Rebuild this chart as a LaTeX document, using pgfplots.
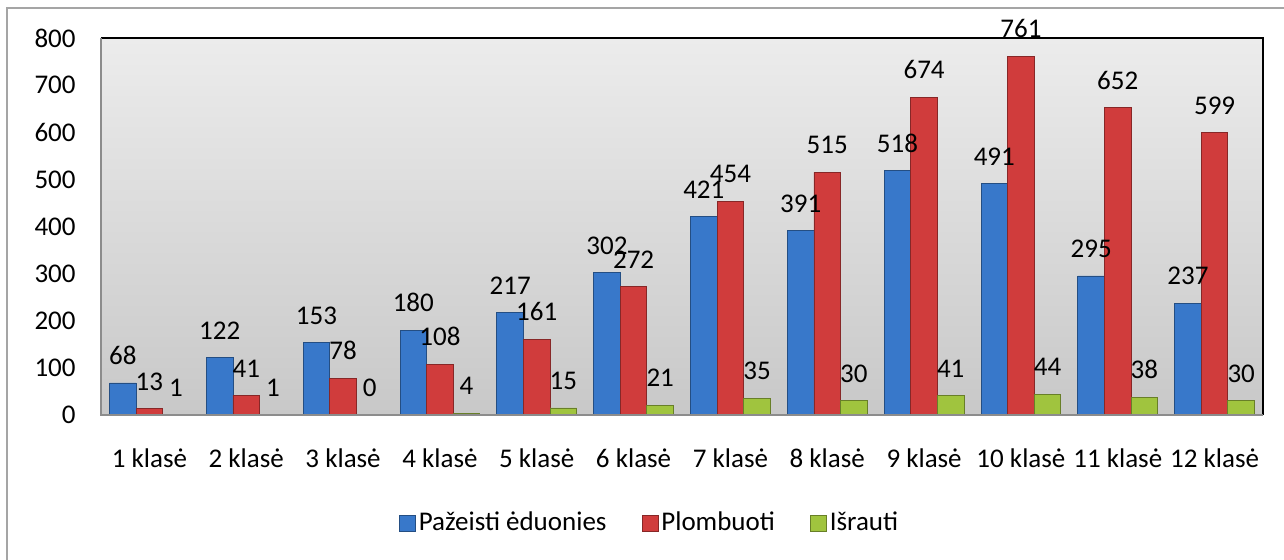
\documentclass[border=0pt]{standalone}
\usepackage{fontspec}
\setmainfont{Carlito}
\usepackage{pgfplots}
\pgfplotsset{compat=1.18}

\definecolor{barblue}{RGB}{56,120,202}
\definecolor{barred}{RGB}{208,60,60}
\definecolor{bargreen}{RGB}{160,196,62}
\definecolor{bgtop}{RGB}{236,236,236}
\definecolor{bgbot}{RGB}{200,200,200}
\definecolor{framegray}{RGB}{140,140,140}
\definecolor{bordergray}{RGB}{165,165,165}

\newcommand{\cf}{\fontsize{13.5}{16}\selectfont}

\begin{document}
\begin{tikzpicture}
\begin{axis}[
    scale only axis,
    width=581pt, height=188.5pt,
    ymin=0, ymax=800,
    ytick={0,100,...,800},
    xmin=-0.5, xmax=11.5,
    xtick={0,...,11},
    xticklabels={1 klasė,2 klasė,3 klasė,4 klasė,5 klasė,6 klasė,7 klasė,8 klasė,9 klasė,10 klasė,11 klasė,12 klasė},
    ybar=0pt, bar width=13.3pt,
    axis line style={draw=none},
    major tick length=0pt,
    font=\cf,
    /pgf/number format/assume math mode=true,
    ticklabel style={font=\cf},
    xticklabel style={anchor=north, inner sep=0pt, yshift=-16.5pt},
    yticklabel style={anchor=east, inner sep=0pt, xshift=-12.5pt},
    nodes near coords,
    every node near coord/.append style={font=\cf, black, anchor=south, inner sep=0pt, yshift=9pt},
    axis background/.style={top color=bgtop, bottom color=bgbot},
    clip=false,
    legend columns=3,
    legend style={at={(0.4725,-0.2865)}, anchor=center, draw=none, fill=none,
        font=\cf, nodes={inner sep=1.5pt},
        /tikz/every odd column/.append style={column sep=0pt},
        /tikz/every even column/.append style={column sep=16pt}},
    legend image code/.code={\fill[#1] (0pt,-4pt) rectangle (8pt,4pt);},
]
\coordinate (O) at (rel axis cs:0,0);

\addplot[draw=barblue!65!black, line width=0.4pt, fill=barblue]
    coordinates {(0,68) (1,122) (2,153) (3,180) (4,217) (5,302) (6,421) (7,391) (8,518) (9,491) (10,295) (11,237)};
\addplot[draw=barred!65!black, line width=0.4pt, fill=barred]
    coordinates {(0,13) (1,41) (2,78) (3,108) (4,161) (5,272) (6,454) (7,515) (8,674) (9,761) (10,652) (11,599)};
\addplot[draw=bargreen!65!black, line width=0.4pt, fill=bargreen]
    coordinates {(0,1) (1,1) (2,0) (3,4) (4,15) (5,21) (6,35) (7,30) (8,41) (9,44) (10,38) (11,30)};
\legend{Pažeisti ėduonies, Plombuoti, Išrauti}

\draw[black, line width=1.1pt] (rel axis cs:0,1) -- (rel axis cs:1,1) -- (rel axis cs:1,0);
\draw[framegray, line width=1.4pt] (rel axis cs:1,0) -- (rel axis cs:0,0) -- (rel axis cs:0,1);
\end{axis}

\draw[bordergray, line width=1pt] ([shift={(-47pt,-72.5pt)}]O) -- ([shift={(-47pt,203.5pt)}]O) -- ([shift={(591.5pt,203.5pt)}]O);
\pgfresetboundingbox
\path[use as bounding box] ([shift={(-50.5pt,-72.5pt)}]O) rectangle ++(642pt,280pt);
\end{tikzpicture}
\end{document}
